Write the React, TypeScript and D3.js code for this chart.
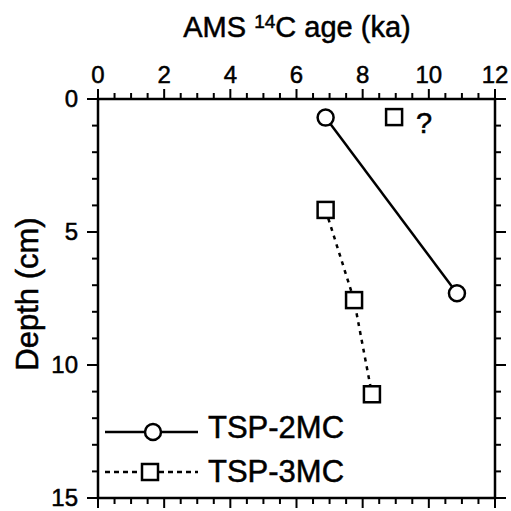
import React from 'react';
import * as d3 from 'd3';

const ageTicks = [0, 2, 4, 6, 8, 10, 12];
const depthTicks = [0, 5, 10, 15];

const tsp2Age = [6.88, 10.85];
const tsp2Depth = [0.7, 7.3];

const tsp3Age = [6.88, 7.74, 8.28];
const tsp3Depth = [4.17, 7.56, 11.1];

// questionable top sample of TSP-3MC
const doubtAge = [8.95];
const doubtDepth = [0.68];

const FONT = '"Liberation Sans", Arial, Helvetica, sans-serif';

const App = () => {
  const W = 511;
  const H = 511;
  const x = d3.scaleLinear().domain([0, 12]).range([98, 495]);
  const y = d3.scaleLinear().domain([0, 15]).range([99, 498]);

  const minorX = d3.range(0, 12.01, 0.5);
  const minorY = d3.range(0, 15.01, 1);

  const line = d3.line<[number, number]>()
    .x(d => x(d[0]))
    .y(d => y(d[1]));

  const tsp2 = tsp2Age.map((a, i) => [a, tsp2Depth[i]] as [number, number]);
  const tsp3 = tsp3Age.map((a, i) => [a, tsp3Depth[i]] as [number, number]);

  const [x0, x1] = x.range();
  const [y0, y1] = y.range();
  const sq = 16;
  const ts = { stroke: '#000', strokeWidth: 0.5 };

  return (
    <svg width={W} height={H} style={{ position: 'absolute', left: 0, top: 0, background: '#fff' }}
      fontFamily={FONT}>
      {/* title */}
      <text x={297} y={37} textAnchor="middle" fontSize={29} {...ts}>
        AMS <tspan fontSize={19} dy={-9}>14</tspan><tspan dy={9}>C age (ka)</tspan>
      </text>

      {/* y label */}
      <text transform={`translate(38,${294}) rotate(-90)`} textAnchor="middle" fontSize={31} {...ts}>
        Depth (cm)
      </text>

      {/* ticks: top and bottom */}
      {minorX.map(v => {
        const major = ageTicks.includes(v);
        const len = major ? 10 : 6;
        return (
          <g key={'tx' + v} stroke="#000" strokeWidth={2}>
            <line x1={x(v)} x2={x(v)} y1={y0} y2={y0 - len} />
            <line x1={x(v)} x2={x(v)} y1={y1} y2={y1 + len} />
          </g>
        );
      })}
      {minorY.map(v => {
        const major = depthTicks.includes(v);
        const len = major ? 11 : 6;
        return (
          <g key={'ty' + v} stroke="#000" strokeWidth={2}>
            <line x1={x0} x2={x0 - len} y1={y(v)} y2={y(v)} />
            <line x1={x1} x2={x1 + len} y1={y(v)} y2={y(v)} />
          </g>
        );
      })}

      {/* frame */}
      <rect x={x0} y={y0} width={x1 - x0} height={y1 - y0} fill="none" stroke="#000" strokeWidth={2.5} />

      {/* tick labels */}
      {ageTicks.map(v => (
        <text key={'lx' + v} x={x(v)} y={83} textAnchor="middle" fontSize={24} {...ts}>{v}</text>
      ))}
      {depthTicks.map(v => (
        <text key={'ly' + v} x={78} y={y(v) + 8} textAnchor="end" fontSize={24} {...ts}>{v}</text>
      ))}

      {/* series */}
      <path d={line(tsp2) ?? ''} fill="none" stroke="#000" strokeWidth={2.5} />
      <path d={line(tsp3) ?? ''} fill="none" stroke="#000" strokeWidth={2.5} strokeDasharray="4 5" />

      {tsp2.map((d, i) => (
        <circle key={'c' + i} cx={x(d[0])} cy={y(d[1])} r={8} fill="#fff" stroke="#000" strokeWidth={2.5} />
      ))}
      {tsp3.map((d, i) => (
        <rect key={'s' + i} x={x(d[0]) - sq / 2} y={y(d[1]) - sq / 2} width={sq} height={sq}
          fill="#fff" stroke="#000" strokeWidth={2.5} />
      ))}
      {doubtAge.map((a, i) => (
        <g key={'q' + i}>
          <rect x={x(a) - sq / 2} y={y(doubtDepth[i]) - sq / 2} width={sq} height={sq}
            fill="#fff" stroke="#000" strokeWidth={2.5} />
          <text x={x(a) + 30} y={y(doubtDepth[i]) + 16} textAnchor="middle" fontSize={29} {...ts}>?</text>
        </g>
      ))}

      {/* legend */}
      <g>
        <line x1={105} x2={198} y1={432} y2={432} stroke="#000" strokeWidth={2.5} />
        <circle cx={153} cy={432} r={8} fill="#fff" stroke="#000" strokeWidth={2.5} />
        <text x={208} y={438} fontSize={31} {...ts}>TSP-2MC</text>
        <line x1={105} x2={198} y1={472} y2={472} stroke="#000" strokeWidth={2.5} strokeDasharray="5 4" />
        <rect x={150 - sq / 2} y={472 - sq / 2} width={sq} height={sq} fill="#fff" stroke="#000" strokeWidth={2.5} />
        <text x={208} y={482} fontSize={31} {...ts}>TSP-3MC</text>
      </g>
    </svg>
  );
};

export default App;
